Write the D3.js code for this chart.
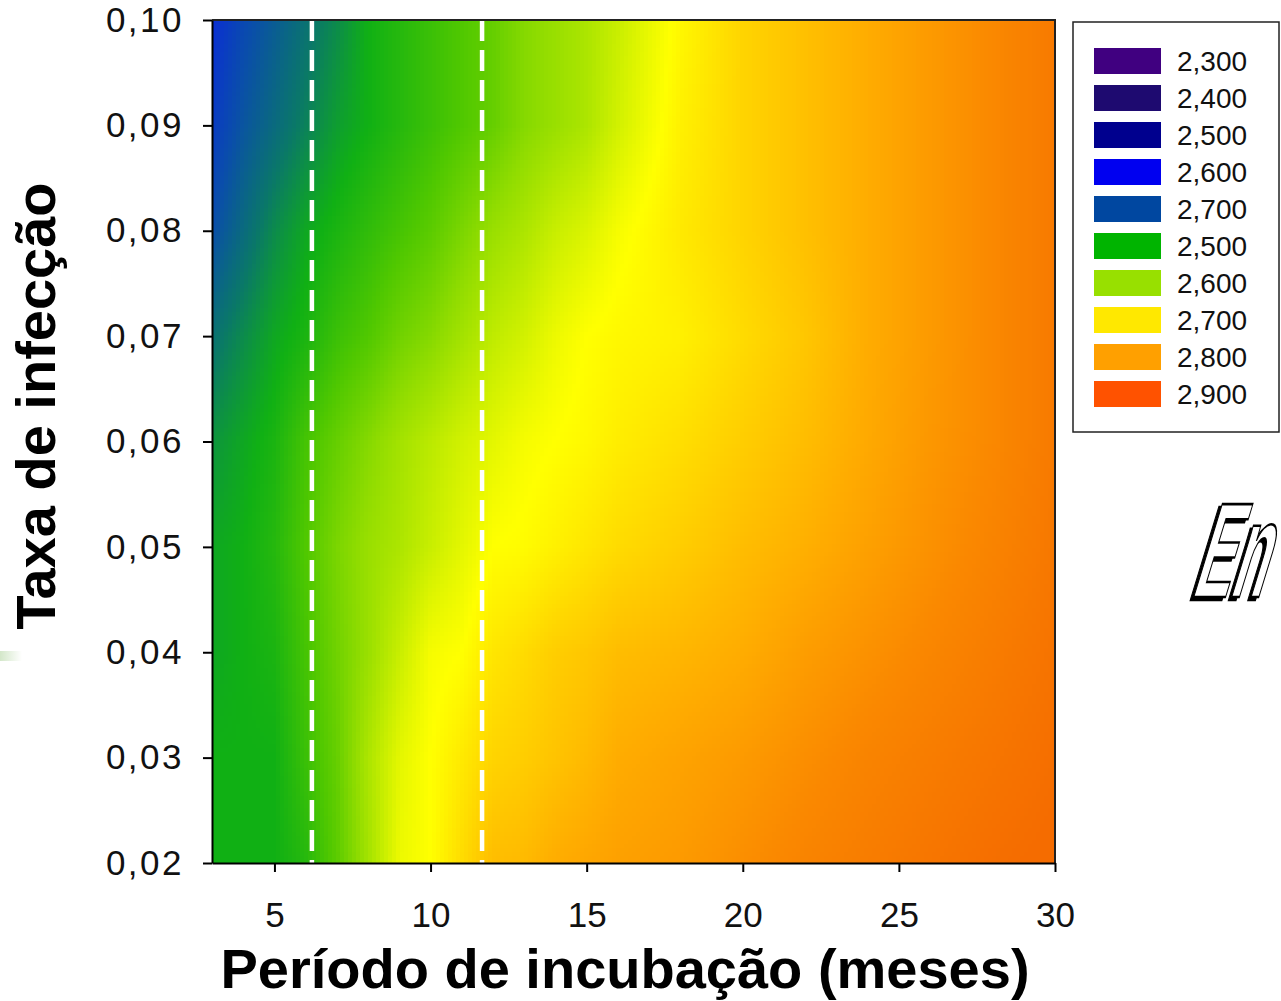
<!DOCTYPE html>
<html>
<head>
<meta charset="utf-8">
<script src="https://cdn.jsdelivr.net/npm/d3@7"></script>
<style>
  body { margin: 0; background: #fff; }
  svg { display: block; }
</style>
</head>
<body>
<svg id="chart" width="1281" height="1001"></svg>
<script>
// grid: columns = periodo (meses), rows = taxa de infeccao
var xs = [3,4,5,6,7,8,9,10,11,12,13,14,15,16,18,20,22,24,26,28,30];
var ys = [0.02,0.03,0.04,0.05,0.06,0.07,0.08,0.09,0.10];
var z002 = [2.48,2.48,2.48,2.50,2.55,2.62,2.70,2.72,2.77,2.815,2.82,2.84,2.85,2.86,2.87,2.89,2.91,2.925,2.94,2.955,2.965];
var z003 = [2.48,2.48,2.48,2.52,2.56,2.63,2.69,2.72,2.75,2.78,2.79,2.805,2.82,2.84,2.855,2.87,2.89,2.91,2.925,2.94,2.955];
var z004 = [2.47,2.48,2.49,2.53,2.57,2.61,2.66,2.71,2.72,2.755,2.77,2.79,2.80,2.815,2.825,2.84,2.865,2.885,2.905,2.925,2.945];
var z005 = [2.47,2.48,2.50,2.54,2.58,2.61,2.63,2.66,2.69,2.72,2.725,2.74,2.755,2.77,2.79,2.815,2.835,2.86,2.885,2.91,2.935];
var z006 = [2.45,2.47,2.49,2.53,2.56,2.59,2.62,2.645,2.67,2.69,2.71,2.72,2.73,2.745,2.765,2.79,2.815,2.845,2.875,2.90,2.93];
var z007 = [2.41,2.44,2.47,2.49,2.52,2.54,2.57,2.59,2.62,2.65,2.67,2.70,2.72,2.73,2.74,2.77,2.80,2.84,2.87,2.90,2.93];
var z008 = [2.36,2.40,2.44,2.47,2.49,2.51,2.53,2.55,2.58,2.61,2.63,2.66,2.68,2.71,2.75,2.78,2.81,2.84,2.87,2.90,2.93];
var z009 = [2.33,2.37,2.40,2.43,2.46,2.48,2.50,2.52,2.54,2.56,2.59,2.61,2.63,2.67,2.74,2.78,2.81,2.84,2.87,2.90,2.93];
var z010 = [2.31,2.35,2.38,2.41,2.44,2.48,2.50,2.52,2.54,2.56,2.59,2.61,2.63,2.66,2.73,2.78,2.81,2.84,2.87,2.90,2.93];
var grid = [z002,z003,z004,z005,z006,z007,z008,z009,z010];

var xTicks = [5,10,15,20,25,30];
var yTicks = [0.02,0.03,0.04,0.05,0.06,0.07,0.08,0.09,0.10];
var cutoffs = [6.2, 11.65];

var legendLabels = ["2,300","2,400","2,500","2,600","2,700","2,500","2,600","2,700","2,800","2,900"];
var legendColors = ["#400080","#1e0a70","#00008e","#0000f0","#0047a0","#00b400","#98e000","#ffe800","#ffa000","#ff5200"];

// colour ramp of the surface
var zStops = [2.30,2.36,2.42,2.48,2.54,2.60,2.66,2.72,2.78,2.84,2.90,2.96];
var zColors = ["#0a28dc","#0a4eaa","#0a7868","#10b014","#50c800","#90dc00","#c8ee00","#ffff00","#ffd400","#ffac00","#fa8800","#f56c00"];

var svg = d3.select("#chart"),
    L = 212, R = 1055, T = 20, B = 863;
var x = d3.scaleLinear().domain([3,30]).range([L,R]),
    y = d3.scaleLinear().domain([0.02,0.10]).range([B,T]),
    color = d3.scaleLinear().domain(zStops).range(zColors).clamp(true);
var fmt = d3.formatLocale({decimal:",", thousands:".", grouping:[3], currency:["R$",""]});

// bilinear lookup in the grid
function zAt(xv, yv) {
    var i = Math.max(0, Math.min(xs.length-2, d3.bisectRight(xs, xv)-1)),
        j = Math.max(0, Math.min(ys.length-2, d3.bisectRight(ys, yv)-1));
    var tx = Math.max(0, Math.min(1, (xv-xs[i])/(xs[i+1]-xs[i]))),
        ty = Math.max(0, Math.min(1, (yv-ys[j])/(ys[j+1]-ys[j])));
    var a = grid[j][i]*(1-tx) + grid[j][i+1]*tx,
        b = grid[j+1][i]*(1-tx) + grid[j+1][i+1]*tx;
    return a*(1-ty) + b*ty;
}

var step = 4, cells = [];
for (var py = T; py < B; py += step)
    for (var px = L; px < R; px += step)
        cells.push({px:px, py:py, z:zAt(x.invert(px+step/2), y.invert(py+step/2))});

svg.append("defs").append("clipPath").attr("id","plotClip")
    .append("rect").attr("x",L).attr("y",T).attr("width",R-L).attr("height",B-T);

svg.append("g")
    .attr("clip-path","url(#plotClip)")
    .attr("shape-rendering","crispEdges")
    .selectAll("rect").data(cells).enter().append("rect")
    .attr("x",d=>d.px).attr("y",d=>d.py)
    .attr("width",step+0.5).attr("height",step+0.5)
    .attr("fill",d=>color(d.z));

// dashed cut lines
svg.append("g").selectAll("line").data(cutoffs).enter().append("line")
    .attr("x1",d=>x(d)).attr("x2",d=>x(d))
    .attr("y1",T).attr("y2",B)
    .attr("stroke","#fff").attr("stroke-width",4.5)
    .attr("stroke-dasharray","21,9");

// frame (top/right)
svg.append("path")
    .attr("d","M"+L+","+T+"H"+R+"V"+B)
    .attr("fill","none").attr("stroke","#222").attr("stroke-width",2);

var xAxis = svg.append("g")
    .attr("transform","translate(0,"+B+")")
    .call(d3.axisBottom(x).tickValues(xTicks).tickSize(9).tickPadding(30).tickSizeOuter(0));
var yAxis = svg.append("g")
    .attr("transform","translate("+L+",0)")
    .call(d3.axisLeft(y).tickValues(yTicks).tickSize(9).tickPadding(19).tickSizeOuter(0)
          .tickFormat(fmt.format(".2f")));
[xAxis, yAxis].forEach(function (g) {
    g.attr("font-family","'Liberation Sans', Arial, sans-serif").attr("font-size",35);
    g.select(".domain").attr("stroke","#000").attr("stroke-width",2);
    g.selectAll(".tick line").attr("stroke","#000").attr("stroke-width",2);
    g.selectAll(".tick text").attr("fill","#111");
});
yAxis.selectAll(".tick text").attr("letter-spacing",2.5);

// titles
svg.append("text")
    .attr("x",625).attr("y",988)
    .attr("text-anchor","middle")
    .attr("font-family","'Liberation Sans', Arial, sans-serif")
    .attr("font-weight","bold").attr("font-size",56)
    .text("Período de incubação (meses)");
svg.append("text")
    .attr("transform","translate(55,406) rotate(-90)")
    .attr("text-anchor","middle")
    .attr("font-family","'Liberation Sans', Arial, sans-serif")
    .attr("font-weight","bold").attr("font-size",56)
    .text("Taxa de infecção");

// legend
var lg = svg.append("g");
lg.append("rect")
    .attr("x",1073).attr("y",22).attr("width",206).attr("height",410)
    .attr("fill","#fff").attr("stroke","#222").attr("stroke-width",1.5);
var li = lg.selectAll("g.item").data(legendLabels).enter().append("g")
    .attr("class","item")
    .attr("transform",(_,i)=>"translate(0,"+(61+i*37)+")");
li.append("rect")
    .attr("x",1094).attr("y",-13).attr("width",67).attr("height",26)
    .attr("fill",(_,i)=>legendColors[i]);
li.append("text")
    .attr("x",1177).attr("y",0).attr("dy","0.36em")
    .attr("font-family","'Liberation Sans', Arial, sans-serif")
    .attr("font-size",28).attr("fill","#111")
    .text(d=>d);

// faint green mark on the left edge
var gr = svg.select("defs").append("linearGradient").attr("id","fadeGreen");
gr.append("stop").attr("offset","0%").attr("stop-color","#d3e7c9");
gr.append("stop").attr("offset","100%").attr("stop-color","#ffffff");
svg.append("rect").attr("x",0).attr("y",651).attr("width",22).attr("height",10)
    .attr("fill","url(#fadeGreen)");

// outlined word at the right edge
var word = svg.append("g").attr("transform","translate(1190,597) skewX(-17) scale(0.42,1)");
word.append("text")
    .attr("x",-6).attr("y",3)
    .attr("font-family","'Liberation Sans', Arial, sans-serif")
    .attr("font-weight","bold").attr("font-size",135)
    .attr("fill","#000").attr("stroke","#000").attr("stroke-width",2)
    .attr("vector-effect","non-scaling-stroke")
    .text("En");
word.append("text")
    .attr("x",0).attr("y",0)
    .attr("font-family","'Liberation Sans', Arial, sans-serif")
    .attr("font-weight","bold").attr("font-size",135)
    .attr("fill","#fff").attr("stroke","#000").attr("stroke-width",2)
    .attr("vector-effect","non-scaling-stroke")
    .text("En");
</script>
</body>
</html>
